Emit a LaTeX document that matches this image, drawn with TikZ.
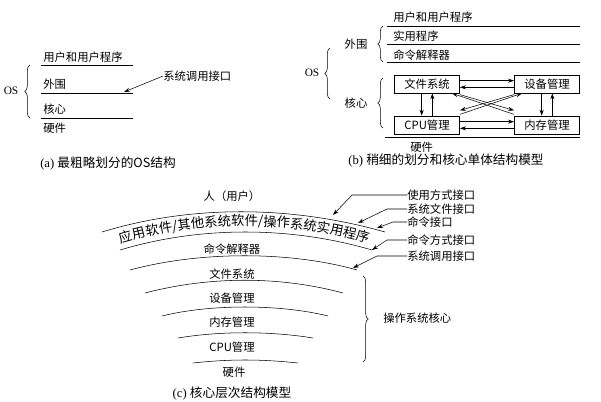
\documentclass[tikz,border=0pt]{standalone}
\usepackage{fontspec}
\setmainfont{Liberation Serif}
\newfontfamily\cjk{Noto Sans CJK SC}
\usetikzlibrary{arrows.meta,decorations.pathreplacing,decorations.text}
\begin{document}
\begin{tikzpicture}[x=0.75pt,y=-0.75pt,font=\fontsize{8.5}{9}\selectfont,
  lbl/.style={inner sep=0pt,anchor=west},
  captxt/.style={inner sep=0pt,font=\fontsize{9.5}{10}\selectfont},
  arr/.style={-{Stealth[length=4.5pt,width=3pt]}},
  brc/.style={decorate,decoration={brace,amplitude=4pt}},
  box/.style={draw,minimum width=49pt,minimum height=13.5pt,inner sep=0pt}]
\useasboundingbox (0,0) rectangle (601,401);
% ---------- (a)
\node[inner sep=0pt] (aos) at (11,91) {OS};
\draw[brc] (30,118) -- (30,65);
\draw (41,65) -- (133,65);
\draw (41,93) -- (133,93);
\draw (41,118) -- (133,118);
\node[lbl] (a1) at (43,57) {\cjk 用户和用户程序};
\node[lbl] (a2) at (43,84) {\cjk 外围};
\node[lbl] (a3) at (43,109) {\cjk 核心};
\node[lbl] (a4) at (43,128) {\cjk 硬件};
\node[lbl] (a5) at (163,76) {\cjk 系统调用接口};
\coordinate (ap) at (124,92);
\draw[arr] (a5.west) -- (ap);
\node[captxt,anchor=west] (acap) at (40,163) {(a) \cjk 最粗略划分的OS结构};
% ---------- (b)
\node[inner sep=0pt] (bos) at (312,73) {OS};
\draw[brc] (330,99) -- (330,48);
\node[inner sep=0pt] (bww) at (356,44) {\cjk 外围};
\node[inner sep=0pt] (bhx) at (356,103) {\cjk 核心};
\draw[brc] (383,62) -- (383,26);
\draw[brc] (383,128) -- (383,78);
\draw (387,26) -- (580,26);
\draw (387,44) -- (580,44);
\draw (387,62) -- (580,62);
\node[lbl] (b1) at (393,17) {\cjk 用户和用户程序};
\node[lbl] (b2) at (393,36) {\cjk 实用程序};
\node[lbl] (b3) at (393,55) {\cjk 命令解释器};
\node[box] (fs) at (427,84) {\cjk 文件系统};
\node[box] (dev) at (547,84) {\cjk 设备管理};
\node[box] (cpu) at (427,125) {\cjk CPU管理};
\node[box] (mem) at (547,125) {\cjk 内存管理};
\draw[arr] ([yshift=2.5pt]fs.east) -- ([yshift=2.5pt]dev.west);
\draw[arr] ([yshift=-2.5pt]dev.west) -- ([yshift=-2.5pt]fs.east);
\draw[arr] ([yshift=2.5pt]cpu.east) -- ([yshift=2.5pt]mem.west);
\draw[arr] ([yshift=-2.5pt]mem.west) -- ([yshift=-2.5pt]cpu.east);
\draw[arr] ([xshift=-4pt]fs.south) -- ([xshift=-4pt]cpu.north);
\draw[arr] ([xshift=4pt]cpu.north) -- ([xshift=4pt]fs.north |- fs.south);
\draw[arr] ([xshift=-4pt]dev.south) -- ([xshift=-4pt]mem.north);
\draw[arr] ([xshift=4pt]mem.north) -- ([xshift=4pt]dev.north |- dev.south);
\draw[arr] ([yshift=-1pt]fs.south east) -- ([yshift=4pt]mem.north west);
\draw[arr] ([yshift=1pt]mem.north west) -- ([xshift=-6pt]fs.south east);
\draw[arr] ([yshift=-1pt]dev.south west) -- ([yshift=4pt]cpu.north east);
\draw[arr] ([yshift=1pt]cpu.north east) -- ([xshift=6pt]dev.south west);
\draw (385,137) -- (580,137);
\node[lbl] (bhw) at (410,147) {\cjk 硬件};
\node[captxt] (bcap) at (446,160) {(b) \cjk 稍细的划分和核心单体结构模型};
% ---------- (c)
\draw (102,232) .. controls (190,205) and (290,205) .. (385,232);
\draw (120,250) .. controls (200,226) and (290,226) .. (372,250);
\draw (130,270) .. controls (200,251) and (290,251) .. (357,270);
\draw (145,293) .. controls (210,276) and (280,276) .. (343,293);
\draw (162,316) .. controls (210,304) and (280,304) .. (328,316);
\draw (178,338) .. controls (220,331) and (270,331) .. (313,338);
\draw (193,363) .. controls (230,359) and (260,359) .. (298,363);
\path[decorate,decoration={text along path,text align=center,
  text={|\cjk\fontsize{10}{11}\selectfont|应用软件/其他系统软件/操作系统实用程序}}]
  (112,246) .. controls (195,219) and (290,219) .. (377,246);
\node (c0) at (232,196) {\cjk 人（用户）};
\node (c1) at (232,249) {\cjk 命令解释器};
\node (c2) at (232,274) {\cjk 文件系统};
\node (c3) at (232,298) {\cjk 设备管理};
\node (c4) at (232,322) {\cjk 内存管理};
\node (c5) at (232,347) {\cjk CPU管理};
\node (c6) at (234,372) {\cjk 硬件};
\node[captxt] (ccap) at (232,393) {(c) \cjk 核心层次结构模型};
\draw[brc] (363,276) -- (363,362);
\node[lbl] (ck) at (383,318) {\cjk 操作系统核心};
\node[lbl] (r1) at (407,195) {\cjk 使用方式接口};
\node[lbl] (r2) at (407,209) {\cjk 系统文件接口};
\node[lbl] (r3) at (407,222) {\cjk 命令接口};
\node[lbl] (r4) at (407,240) {\cjk 命令方式接口};
\node[lbl] (r5) at (407,256) {\cjk 系统调用接口};
\coordinate (p1) at (333,215); \coordinate (p2) at (358,223);
\coordinate (p3) at (377,228); \coordinate (p4) at (372,250);
\coordinate (p5) at (353,268);
\draw[arr] (r1.west) -- (352,195) -- (p1);
\draw[arr] (r2.west) -- (387,209) -- (p2);
\draw[arr] (r3.west) -- (393,222) -- (p3);
\draw[arr] (r4.west) -- (387,240) -- (p4);
\draw[arr] (r5.west) -- (377,256) -- (p5);
\end{tikzpicture}
\end{document}
